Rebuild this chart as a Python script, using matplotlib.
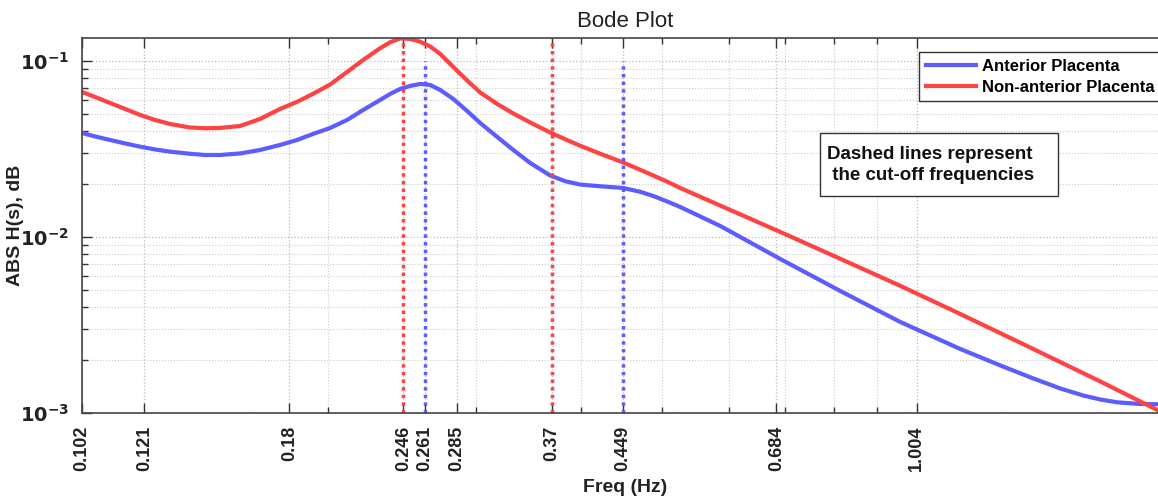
import matplotlib
matplotlib.use("Agg")
import matplotlib.pyplot as plt
from matplotlib.patches import Rectangle
import numpy as np

plt.rcParams['font.family'] = ['Liberation Sans', 'DejaVu Sans']
plt.rcParams['font.weight'] = 'bold'

# anterior placenta (blue)
f_ant = [0.102, 0.1057, 0.1101, 0.1148, 0.1196, 0.1246, 0.1298, 0.1371, 0.1429, 0.1489,
         0.1573, 0.1662, 0.1755, 0.1839, 0.1921, 0.2013, 0.2109, 0.2204, 0.2309, 0.2373,
         0.2439, 0.2507, 0.2576, 0.2648, 0.2722, 0.2821, 0.2930, 0.3037, 0.3182, 0.3325,
         0.3483, 0.3679, 0.3834, 0.3995, 0.4220, 0.4494, 0.4708, 0.4879, 0.5070, 0.5254,
         0.5863, 0.6912, 0.8147, 0.9604, 1.1320, 1.2635, 1.3827, 1.4892, 1.5859, 1.6616,
         1.7408, 1.8537, 1.9423]
h_ant = [0.03899, 0.03725, 0.03558, 0.03398, 0.03259, 0.03142, 0.03053, 0.02970, 0.02923, 0.02923,
         0.02981, 0.03122, 0.03332, 0.03558, 0.03848, 0.04162, 0.04621, 0.05268, 0.06004, 0.06494,
         0.06933, 0.07210, 0.07401, 0.07305, 0.06843, 0.06083, 0.05200, 0.04443, 0.03701, 0.03122,
         0.02633, 0.02236, 0.02073, 0.01985, 0.01941, 0.01898, 0.01806, 0.01710, 0.01591, 0.01481,
         0.01155, 0.007499, 0.004934, 0.003289, 0.002310, 0.001862, 0.001571, 0.001378, 0.001257, 0.001193,
         0.001150, 0.001125, 0.001121]

# non-anterior placenta (red)
f_non = [0.102, 0.1057, 0.1101, 0.1148, 0.1196, 0.1246, 0.1298, 0.1371, 0.1429, 0.1489,
         0.1573, 0.1662, 0.1755, 0.1839, 0.1921, 0.2013, 0.2109, 0.2204, 0.2309, 0.2373,
         0.2439, 0.2507, 0.2576, 0.2648, 0.2722, 0.2821, 0.2930, 0.3037, 0.3182, 0.3325,
         0.3483, 0.3679, 0.3834, 0.3995, 0.4220, 0.4494, 0.4708, 0.4879, 0.5070, 0.5254,
         0.5863, 0.6912, 0.8147, 0.9604, 1.1320, 1.3827, 1.6616, 1.9423]
h_non = [0.06665, 0.06244, 0.05773, 0.05337, 0.04934, 0.04621, 0.04385, 0.04189, 0.04145, 0.04162,
         0.04272, 0.04683, 0.05337, 0.05857, 0.06502, 0.07343, 0.08660, 0.1013, 0.1181, 0.1277,
         0.1342, 0.1334, 0.1286, 0.1209, 0.1096, 0.09245, 0.07748, 0.06623, 0.05696, 0.05031,
         0.04472, 0.03924, 0.03590, 0.03298, 0.02970, 0.02651, 0.02409, 0.02236, 0.02062, 0.01898,
         0.01508, 0.01068, 0.007516, 0.005279, 0.003651, 0.002310, 0.001510, 0.001040]

# cut-off frequencies
cut_ant = [0.261, 0.449]
cut_non = [0.246, 0.37]

xticks = [0.102, 0.121, 0.18, 0.246, 0.261, 0.285, 0.37, 0.449, 0.684, 1.004]
xticklabels = ['0.102', '0.121', '0.18', '0.246', '0.261', '0.285', '0.37', '0.449', '0.684', '1.004']

blue = '#5c5cff'
red = '#ff4242'

W, H = 1158, 498
fig = plt.figure(figsize=(W/100, H/100), dpi=100)
ax = fig.add_axes([82/W, 1-413/H, 1086/W, 375/H])

ax.plot(f_ant, h_ant, color=blue, lw=3, label='Anterior Placenta', solid_joinstyle='round')
ax.plot(f_non, h_non, color=red, lw=3, label='Non-anterior Placenta', solid_joinstyle='round')
for c in cut_non:
    ax.plot([c, c], [1e-3, 0.135], color=red, lw=2.5, linestyle=(0, (1, 1.2)))
for c in cut_ant:
    ax.plot([c, c], [1e-3, 0.1], color=blue, lw=2.5, linestyle=(0, (1, 1.2)))

ax.set_xscale('log')
ax.set_yscale('log')
ax.set_xlim(0.102, 2.0)
ax.set_ylim(1e-3, 0.135)
ax.set_xticks(xticks)
ax.set_xticklabels(xticklabels, rotation=90, fontsize=13, fontweight='bold')
ax.set_yticks([1e-3, 1e-2, 1e-1])
ax.set_yticklabels(['$\\mathbf{10^{-3}}$', '$\\mathbf{10^{-2}}$', '$\\mathbf{10^{-1}}$'], fontsize=14)
ax.tick_params(which='both', direction='in', top=True, right=True, colors='#333333')
ax.tick_params(which='major', length=7, width=1)
ax.tick_params(axis='x', which='major', pad=9)
ax.tick_params(axis='y', which='major', pad=9)
ax.tick_params(which='minor', length=4, width=1)
ax.xaxis.set_minor_formatter(matplotlib.ticker.NullFormatter())
for lbl in ax.get_xticklabels() + ax.get_yticklabels():
    lbl.set_color('#222222')

ax.grid(True, which='major', linestyle=':', color='#bbbbbb', lw=0.9)
ax.grid(True, which='minor', linestyle=':', color='#cccccc', lw=0.8)
for s in ax.spines.values():
    s.set_color('#444444')
    s.set_linewidth(1.2)

ax.set_title('Bode Plot', fontsize=16, fontweight='normal', pad=8, color='#222222')
ax.set_xlabel('Freq (Hz)', fontsize=14, fontweight='bold', labelpad=6, color='#222222')
ax.set_ylabel('ABS H(s), dB', fontsize=14, fontweight='bold', color='#222222')
ax.yaxis.set_label_coords(-58/1086, 0.5)

leg = ax.legend(loc='upper left', bbox_to_anchor=(919/W, 1-52/H),
                bbox_transform=fig.transFigure, fontsize=12, handlelength=3.0,
                fancybox=False, edgecolor='#333333', borderpad=0.4, labelspacing=0.35,
                handletextpad=0.4, borderaxespad=0, framealpha=1)
leg.get_frame().set_linewidth(1)

# note box
fig.patches.append(Rectangle((820/W, 1-196/H), 238/W, 63/H, transform=fig.transFigure,
                             fc='white', ec='#333333', lw=1, zorder=5))
fig.text(827/W, 1-165/H, 'Dashed lines represent\n the cut-off frequencies',
         fontsize=13.5, fontweight='bold', va='center', ha='left', linespacing=1.3,
         color='#111111', zorder=6)

fig.savefig('out.png', dpi=100)
